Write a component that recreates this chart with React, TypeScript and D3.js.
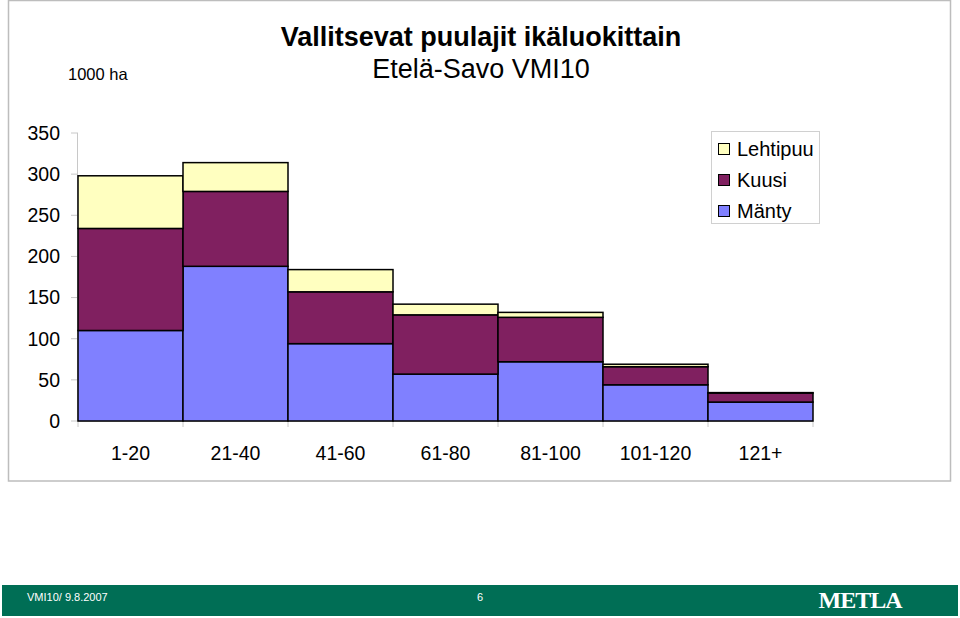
import React from "react";
import * as d3 from "d3";

const categories = ["1-20", "21-40", "41-60", "61-80", "81-100", "101-120", "121+"];
const manty = [110, 188, 94, 57, 72, 44, 23];
const kuusi = [124, 91, 63, 72, 54, 22, 11];
const lehtipuu = [64, 35, 27, 13, 6, 3, 0.5];
const seriesNames = ["Mänty", "Kuusi", "Lehtipuu"];
const seriesColors = ["#8080FF", "#802060", "#FFFFC0"];
const yTicks = [0, 50, 100, 150, 200, 250, 300, 350];

export default function App() {
  const W = 960, H = 618;
  const x0 = 78, x1 = 813, yTop = 133, yBot = 421;
  const x = d3.scaleBand().domain(categories).range([x0, x1]).padding(0);
  const y = d3.scaleLinear().domain([0, 350]).range([yBot, yTop]);
  const rows = categories.map((c, i) => ({ cat: c, "Mänty": manty[i], "Kuusi": kuusi[i], "Lehtipuu": lehtipuu[i] }));
  const stacked = d3.stack<any>().keys(seriesNames)(rows);
  const font = "'Liberation Sans', Arial, sans-serif";
  const legendItems = [
    { name: "Lehtipuu", color: seriesColors[2] },
    { name: "Kuusi", color: seriesColors[1] },
    { name: "Mänty", color: seriesColors[0] },
  ];
  return (
    <svg width={W} height={H} style={{ position: "absolute", left: 0, top: 0, background: "#fff" }} fontFamily={font}>
      <rect x={8.5} y={0.5} width={942} height={480.5} fill="#fff" stroke="#bdbdbd" strokeWidth={1.5} />
      <text x={481} y={46} textAnchor="middle" fontSize={27} fontWeight="bold">Vallitsevat puulajit ikäluokittain</text>
      <text x={481} y={78} textAnchor="middle" fontSize={27}>Etelä-Savo VMI10</text>
      <text x={68} y={80} fontSize={16.5}>1000 ha</text>
      {/* y axis */}
      <line x1={x0 - 0.5} x2={x0 - 0.5} y1={yTop} y2={yBot} stroke="#c8c8c8" />
      {yTicks.map((t) => (
        <g key={t}>
          <line x1={x0 - 7} x2={x0} y1={y(t)} y2={y(t)} stroke="#c8c8c8" />
          <text x={60} y={y(t)} dy="0.35em" textAnchor="end" fontSize={19.5}>{t}</text>
        </g>
      ))}
      {/* x axis */}
      <line x1={x0} x2={x1} y1={yBot + 0.5} y2={yBot + 0.5} stroke="#c8c8c8" />
      {categories.map((c, i) => (
        <line key={"t" + i} x1={x(c)!} x2={x(c)!} y1={yBot} y2={yBot + 6} stroke="#c8c8c8" />
      ))}
      <line x1={x1} x2={x1} y1={yBot} y2={yBot + 6} stroke="#c8c8c8" />
      {/* bars */}
      {stacked.map((s, si) => (
        <g key={s.key}>
          {s.map((d, i) => (
            <rect key={i} x={x(categories[i])!} width={x.bandwidth()} y={y(d[1])} height={y(d[0]) - y(d[1])}
              fill={seriesColors[si]} stroke="#000" strokeWidth={1.5} />
          ))}
        </g>
      ))}
      {categories.map((c) => (
        <text key={c} x={x(c)! + x.bandwidth() / 2} y={460} textAnchor="middle" fontSize={19.5}>{c}</text>
      ))}
      {/* legend */}
      <rect x={711.5} y={131.5} width={108} height={92} fill="#fff" stroke="#d0d0d0" />
      {legendItems.map((it, i) => (
        <g key={it.name}>
          <rect x={718.5} y={143.5 + i * 31} width={11} height={11} fill={it.color} stroke="#000" />
          <text x={737} y={149 + i * 31} dy="0.35em" fontSize={20}>{it.name}</text>
        </g>
      ))}
      {/* footer */}
      <rect x={2} y={585} width={956} height={31} fill="#006e55" />
      <text x={27} y={601} fontSize={11} fill="#fff">VMI10/  9.8.2007</text>
      <text x={477} y={601} fontSize={11} fill="#fff">6</text>
      <text x={860} y={608} textAnchor="middle" fontSize={24} fontWeight="bold" fill="#fff" fontFamily="'Liberation Serif', 'DejaVu Serif', serif" letterSpacing={-1}>METLA</text>
    </svg>
  );
}
